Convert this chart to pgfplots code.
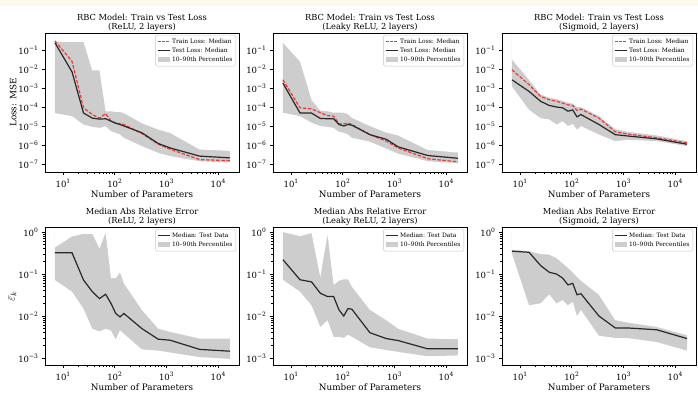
\documentclass[border=0pt]{standalone}
\usepackage{pgfplots}
\pgfplotsset{compat=1.18}
\usepackage{pgfplotstable}
\usepackage{fontspec}
\setmainfont{DejaVu Serif}
\definecolor{band}{RGB}{205,205,205}
\definecolor{trainred}{RGB}{240,55,55}
\definecolor{testblk}{RGB}{40,40,40}
\definecolor{cream}{RGB}{251,248,236}
\newcommand{\ep}[1]{\raisebox{0.45em}{\fontsize{6}{6}\selectfont #1}}

\pgfplotstableread{
x train test lo hi
7 0.30 0.24 4.8e-5 0.27
15 0.025 7e-3 3.3e-5 0.27
25 9e-5 4.8e-5 1.2e-5 0.27
37 4e-5 2.6e-5 9e-6 8.3e-3
51 2.6e-5 2.3e-5 8e-6 8.3e-3
67 4.5e-5 2.4e-5 9.7e-6 5.9e-5
85 1.8e-5 1.8e-5 5.4e-6 5.9e-5
105 1.4e-5 1.4e-5 4.4e-6 5.5e-5
127 1.3e-5 1.2e-5 3.6e-6 5.5e-5
151 1.2e-5 1e-5 2.4e-6 4.8e-5
337 4e-6 4.4e-6 8.8e-7 1.4e-5
697 1.1e-6 1.2e-6 3.9e-7 6.5e-6
1185 6e-7 7e-7 2.6e-7 4.3e-6
4417 1.7e-7 2.6e-7 1.4e-7 5.8e-7
17025 1.5e-7 2.1e-7 1.2e-7 4.9e-7
}\TL

\pgfplotstableread{
x train test lo hi
7 2.7e-3 1.8e-3 5e-5 0.24
15 9e-5 4.8e-5 3.3e-5 0.025
25 8e-5 4.8e-5 1.5e-5 2.4e-4
37 5e-5 2.5e-5 1e-5 6.5e-5
51 3.5e-5 2.4e-5 9e-6 6e-5
67 3.3e-5 2.4e-5 8e-6 5e-5
85 1.3e-5 1.2e-5 5e-6 5e-5
105 1.3e-5 1e-5 4.4e-6 5e-5
127 1.4e-5 1.2e-5 3.6e-6 4.2e-5
151 1.2e-5 1.1e-5 2.4e-6 2.7e-5
337 3.5e-6 3.5e-6 1.5e-6 1e-5
697 1.6e-6 2e-6 6.5e-7 4.5e-6
1185 7e-7 8e-7 3.5e-7 3.2e-6
4417 1.9e-7 2.8e-7 1.4e-7 5.5e-7
17025 1.3e-7 2e-7 1.1e-7 4e-7
}\TM

\pgfplotstableread{
x train test lo hi
7 9e-3 2.7e-3 1.2e-3 0.032
15 1.5e-3 6.6e-4 7.2e-5 2.7e-3
25 3.6e-4 2e-4 2.6e-5 4.6e-4
37 2.4e-4 1.2e-4 2.2e-5 3.1e-4
51 2e-4 1e-4 1.2e-5 2.6e-4
67 1.6e-4 9e-5 1.8e-5 2.1e-4
85 1.3e-4 6e-5 1e-5 1.7e-4
105 1.2e-4 7e-5 1.3e-5 1.5e-4
127 6.6e-5 3e-5 6.4e-6 1e-4
151 7.7e-5 4e-5 1e-5 1e-4
337 2.6e-5 1.2e-5 3.6e-6 3.4e-5
697 5e-6 3.5e-6 1.6e-6 7e-6
1185 3.8e-6 3e-6 1.9e-6 5e-6
4417 2.4e-6 2.1e-6 1.6e-6 3.2e-6
17025 1.3e-6 1.1e-6 8.8e-7 1.6e-6
}\TR

\pgfplotstableread{
x test lo hi
7 0.32 0.072 0.43
15 0.32 0.038 0.79
25 0.072 0.015 0.91
37 0.038 5e-3 0.91
51 0.026 4.3e-3 0.41
67 0.033 5e-3 0.98
85 0.02 4.5e-3 0.08
105 0.0115 2.8e-3 0.08
127 0.0095 4.6e-3 0.11
151 0.0115 3.8e-3 0.06
337 5e-3 1.6e-3 0.014
697 2.8e-3 1.5e-3 5e-3
1185 2.65e-3 1.35e-3 4.2e-3
4417 1.6e-3 1.05e-3 2.9e-3
17025 1.45e-3 9.5e-4 2.9e-3
}\BL

\pgfplotstableread{
x test lo hi
7 0.22 0.073 1.0
15 0.073 0.038 0.8
25 0.065 0.018 0.95
37 0.035 5.5e-3 0.085
51 0.029 8e-3 0.9
67 0.029 3.2e-3 0.055
85 0.014 3.2e-3 0.07
105 0.01 3.0e-3 0.075
127 0.015 3.6e-3 0.075
151 0.0145 3.2e-3 0.05
337 4e-3 1.8e-3 0.014
697 2.9e-3 1.55e-3 8e-3
1185 2.6e-3 1.4e-3 5e-3
4417 1.65e-3 1.1e-3 2.9e-3
17025 1.65e-3 1.15e-3 2.8e-3
}\BM

\pgfplotstableread{
x test lo hi
7 0.35 0.31 0.38
15 0.33 0.018 0.35
25 0.16 0.02 0.3
37 0.11 0.033 0.29
51 0.1 0.02 0.24
67 0.08 0.024 0.18
85 0.055 0.018 0.14
105 0.06 0.022 0.11
127 0.032 0.01 0.085
151 0.034 0.014 0.07
337 0.01 3.4e-3 0.032
697 5.2e-3 3e-3 8e-3
1185 5.2e-3 3e-3 7e-3
4417 4.7e-3 2.4e-3 5.5e-3
17025 2.9e-3 1.5e-3 3.5e-3
}\BR

\tikzset{
  trainline/.style={draw=trainred, dash pattern=on 3.5pt off 1.6pt, line width=1.2pt},
  testline/.style={draw=testblk, line width=1.2pt},
}

% common axis options, wrapped in a macro
\newcommand{\beginpanel}[1]{%
\begin{axis}[
    xmode=log, ymode=log,
    scale only axis, width=194pt, anchor=south west,
    xmin=4.5, xmax=25450,
    xtick={10,100,1000,10000},
    xticklabels={10\ep{1},10\ep{2},10\ep{3},10\ep{4}},
    axis on top,
    axis line style={line width=0.9pt, black},
    tick style={black, line width=0.6pt},
    major tick length=3.5pt, minor tick length=2pt,
    tick align=outside, xtick pos=left, ytick pos=left,
    xticklabel style={font=\fontsize{8.5}{10}\selectfont},
    yticklabel style={font=\fontsize{8.5}{10}\selectfont},
    xlabel={Number of Parameters},
    xlabel style={font=\fontsize{8.8}{10}\selectfont, yshift=3pt},
    ylabel style={font=\fontsize{8.8}{10}\selectfont},
    ylabel shift=-5pt,
    title style={font=\fontsize{8.3}{9.8}\selectfont, align=center,
      at={(0.5,1)}, anchor=south, inner sep=1pt, yshift=-6pt},
    legend cell align=left,
    legend style={at={(0.985,0.985)}, anchor=north east, draw=black!22,
      rounded corners=1.5pt, fill=white,
      font=\fontsize{6}{7}\selectfont, inner sep=1.5pt, row sep=-1.2pt},
    #1]}

% band between the 10th and 90th percentiles: all values are below 1,
% so closed cycles (closing at y=1 on a log axis) are filled lower-first
\newcommand{\bandplot}[1]{%
  \addplot[fill=band, draw=none, forget plot] table[x=x,y=lo]{#1} \closedcycle;
  \addplot[fill=white, draw=none, forget plot] table[x=x,y=hi]{#1} \closedcycle;
}
\newcommand{\trainlegend}{%
  \addlegendimage{legend image code/.code={\draw[color=trainred, draw=trainred, sharp corners, dash pattern=on 3pt off 1.3pt, line width=1.2pt] (0pt,0pt) -- (12pt,0pt);}}
  \addlegendentry{Train Loss: Median}}
\newcommand{\testlegend}[1]{%
  \addlegendimage{legend image code/.code={\draw[color=testblk, draw=testblk, sharp corners, line width=1.2pt] (0pt,0pt) -- (12pt,0pt);}}
  \addlegendentry{#1}}
\newcommand{\bandlegend}{%
  \addlegendimage{legend image code/.code={\path[fill=band, draw=none, sharp corners] (0pt,-2.3pt) rectangle (12pt,2.3pt);}}
  \addlegendentry{10–90th Percentiles}}

\begin{document}
\begin{tikzpicture}
\useasboundingbox (0,0) rectangle (698pt,395pt);
\fill[cream] (0,389pt) rectangle (698pt,395pt);

% ---------- top row ----------
\beginpanel{height=139pt, ymin=3.8e-8, ymax=0.78,
    ytick={1e-7,1e-6,1e-5,1e-4,1e-3,1e-2,1e-1},
    yticklabels={10\ep{−7},10\ep{−6},10\ep{−5},10\ep{−4},10\ep{−3},10\ep{−2},10\ep{−1}},
    yminorticks=false, at={(45pt,223pt)},
    title={RBC Model: Train vs Test Loss\\(ReLU, 2 layers)}, ylabel={Loss: MSE}}
\bandplot{\TL}
\addplot[trainline, forget plot] table[x=x,y=train]{\TL};
\addplot[testline, forget plot] table[x=x,y=test]{\TL};
\trainlegend \testlegend{Test Loss: Median} \bandlegend
\end{axis}

\beginpanel{height=139pt, ymin=3.8e-8, ymax=0.78,
    ytick={1e-7,1e-6,1e-5,1e-4,1e-3,1e-2,1e-1},
    yticklabels={10\ep{−7},10\ep{−6},10\ep{−5},10\ep{−4},10\ep{−3},10\ep{−2},10\ep{−1}},
    yminorticks=false, at={(273pt,223pt)},
    title={RBC Model: Train vs Test Loss\\(Leaky ReLU, 2 layers)}}
\bandplot{\TM}
\addplot[trainline, forget plot] table[x=x,y=train]{\TM};
\addplot[testline, forget plot] table[x=x,y=test]{\TM};
\trainlegend \testlegend{Test Loss: Median} \bandlegend
\end{axis}

\beginpanel{height=139pt, ymin=3.8e-8, ymax=0.78,
    ytick={1e-7,1e-6,1e-5,1e-4,1e-3,1e-2,1e-1},
    yticklabels={10\ep{−7},10\ep{−6},10\ep{−5},10\ep{−4},10\ep{−3},10\ep{−2},10\ep{−1}},
    yminorticks=false, at={(502pt,223pt)},
    title={RBC Model: Train vs Test Loss\\(Sigmoid, 2 layers)}}
\bandplot{\TR}
\addplot[trainline, forget plot] table[x=x,y=train]{\TR};
\addplot[testline, forget plot] table[x=x,y=test]{\TR};
\trainlegend \testlegend{Test Loss: Median} \bandlegend
\end{axis}

% ---------- bottom row ----------
\beginpanel{height=138pt, ymin=6.8e-4, ymax=1.32,
    ytick={1e-3,1e-2,1e-1,1},
    yticklabels={10\ep{−3},10\ep{−2},10\ep{−1},10\ep{0}},
    at={(45pt,30pt)},
    title={Median Abs Relative Error\\(ReLU, 2 layers)},
    ylabel={\fontsize{11}{12}\selectfont$\bar{\varepsilon}_k$}}
\bandplot{\BL}
\addplot[testline, forget plot] table[x=x,y=test]{\BL};
\testlegend{Median: Test Data} \bandlegend
\end{axis}

\beginpanel{height=138pt, ymin=6.8e-4, ymax=1.32,
    ytick={1e-3,1e-2,1e-1,1},
    yticklabels={10\ep{−3},10\ep{−2},10\ep{−1},10\ep{0}},
    at={(273pt,30pt)},
    title={Median Abs Relative Error\\(Leaky ReLU, 2 layers)}}
\bandplot{\BM}
\addplot[testline, forget plot] table[x=x,y=test]{\BM};
\testlegend{Median: Test Data} \bandlegend
\end{axis}

\beginpanel{height=138pt, ymin=6.8e-4, ymax=1.32,
    ytick={1e-3,1e-2,1e-1,1},
    yticklabels={10\ep{−3},10\ep{−2},10\ep{−1},10\ep{0}},
    at={(502pt,30pt)},
    title={Median Abs Relative Error\\(Sigmoid, 2 layers)}}
\bandplot{\BR}
\addplot[testline, forget plot] table[x=x,y=test]{\BR};
\testlegend{Median: Test Data} \bandlegend
\end{axis}
\end{tikzpicture}
\end{document}
